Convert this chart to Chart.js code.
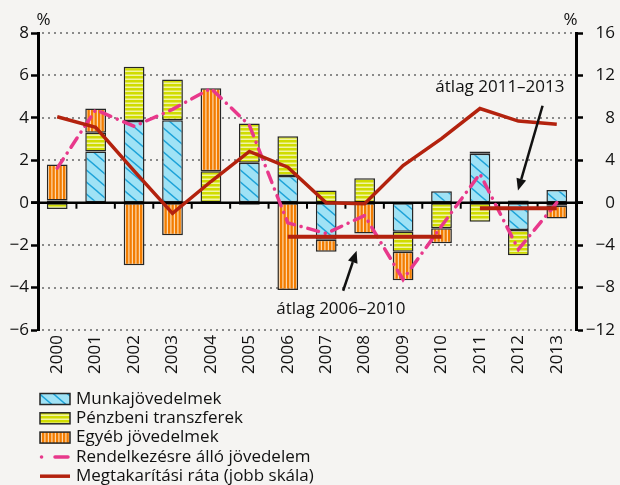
<!DOCTYPE html>
<html><head><meta charset="utf-8">
<script src="https://cdn.jsdelivr.net/npm/chart.js@4/dist/chart.umd.min.js"></script>
<style>html,body{margin:0;padding:0;background:#f5f4f2;}canvas{display:block}</style>
</head><body>
<canvas id="c" width="620" height="485" style="width:620px;height:485px"></canvas>
<script>
// ---- data ----
const years = ['2000','2001','2002','2003','2004','2005','2006','2007','2008','2009','2010','2011','2012','2013'];
const munkajovedelmek = [0.1, 2.42, 3.85, 3.89, 0, 1.88, 1.26, -1.74, 0, -1.37, 0.54, 2.31, -1.29, 0.6];
const penzbeniTranszferek = [-0.3, 0.88, 2.56, 1.92, 1.48, 1.85, 1.87, 0.57, 1.15, -0.94, -1.2, -0.9, -1.19, -0.14];
const egyebJovedelmek = [1.7, 1.14, -2.95, -1.53, 3.91, -0.1, -4.12, -0.57, -1.45, -1.34, -0.71, 0.1, 0.1, -0.6];
const rendelkezesreAllo = [1.63, 4.38, 3.6, 4.4, 5.39, 3.65, -0.95, -1.45, -0.6, -3.62, -1.1, 1.36, -2.2, 0.0];
const megtakaritasiRata = [8.1, 7.1, 3.0, -1.0, 2.0, 4.83, 3.35, 0.0, -0.1, 3.5, 6.04, 8.88, 7.7, 7.39];
const atlag2006_2010 = [null, null, null, null, null, null, -1.6, -1.6, -1.6, -1.6, -1.6, null, null, null];
const atlag2011_2013 = [null, null, null, null, null, null, null, null, null, null, null, -0.26, -0.26, -0.26];
const leftTicks = {min: -6, max: 8, step: 2};
const rightTicks = {min: -12, max: 16, step: 4};

const FONT = '"Open Sans", "DejaVu Sans", sans-serif';
Chart.defaults.font.family = FONT;
Chart.defaults.font.size = 17;
Chart.defaults.color = '#111';

function makePattern(kind){
  const c = document.createElement('canvas');
  const g = c.getContext('2d');
  if (kind === 'blue') {
    c.width = 14; c.height = 12;
    g.fillStyle = '#9fe2f5'; g.fillRect(0,0,14,12);
    g.strokeStyle = '#1ca2d8'; g.lineWidth = 1.4;
    for (let j = -1; j <= 1; j++) { g.beginPath(); g.moveTo(-14, -12 + 12*j); g.lineTo(28, 24 + 12*j); g.stroke(); }
  } else if (kind === 'yellow') {
    c.width = 4; c.height = 4;
    g.fillStyle = '#d0dc00'; g.fillRect(0,0,4,4);
    g.fillStyle = '#f1f4a4'; g.fillRect(0,2.5,4,1.5);
  } else {
    c.width = 7; c.height = 4;
    g.fillStyle = '#f27c00'; g.fillRect(0,0,7,4);
    g.fillStyle = '#fdd7aa'; g.fillRect(2.3,0,1.2,4); g.fillRect(5.8,0,1.2,4);
  }
  return document.getElementById('c').getContext('2d').createPattern(c, 'repeat');
}
const patBlue = makePattern('blue'), patYellow = makePattern('yellow'), patOrange = makePattern('orange');
const RED = '#b3220e', PINK = '#e8388b', EDGE = '#262626';

const fmt = v => v < 0 ? '\u2212' + Math.abs(v) : String(v);

function arrow(ctx, x1, y1, x2, y2){
  const ang = Math.atan2(y2 - y1, x2 - x1), L = 12, W = 5;
  const bx = x2 - L*Math.cos(ang), by = y2 - L*Math.sin(ang);
  ctx.beginPath(); ctx.moveTo(x1, y1); ctx.lineTo(bx, by); ctx.stroke();
  ctx.beginPath(); ctx.moveTo(x2, y2);
  ctx.lineTo(bx + W*Math.sin(ang), by - W*Math.cos(ang));
  ctx.lineTo(bx - W*Math.sin(ang), by + W*Math.cos(ang));
  ctx.closePath(); ctx.fill();
}

function drawGrid(chart){
  const {ctx, chartArea: a, scales: {y}} = chart;
  ctx.save(); ctx.fillStyle = '#8a8a8a';
  for (let v = leftTicks.min; v <= leftTicks.max; v += leftTicks.step) {
    if (v === 0) continue;
    const py = Math.round(y.getPixelForValue(v));
    for (let px = Math.round(a.left) + 4; px < a.right - 2; px += 6) ctx.fillRect(px, py - 1, 2, 2);
  }
  ctx.restore();
}

const overlay = {
  id: 'overlay',
  beforeDraw(chart){
    const ctx = chart.ctx; ctx.save(); ctx.fillStyle = '#f5f4f2'; ctx.fillRect(0,0,chart.width,chart.height); ctx.restore();
  },
  beforeDatasetsDraw(chart){
    drawGrid(chart);
  },
  beforeDatasetDraw(chart, args){
    if (args.index !== 3) return;
    const {ctx, chartArea: a, scales: {x, y}} = chart;
    const y0 = y.getPixelForValue(0);
    ctx.save(); ctx.strokeStyle = '#000'; ctx.lineWidth = 2.5;
    ctx.beginPath(); ctx.moveTo(a.left - 7, y0); ctx.lineTo(a.right + 7, y0); ctx.stroke();
    ctx.lineWidth = 2;
    for (let i = 1; i < years.length; i++) {
      const xb = (x.getPixelForValue(i-1) + x.getPixelForValue(i)) / 2;
      ctx.beginPath(); ctx.moveTo(xb, y0); ctx.lineTo(xb, y0 + 6); ctx.stroke();
    }
    ctx.restore();
  },
  afterDraw(chart){
    const {ctx, chartArea: a, scales: {x, y}} = chart;
    ctx.save();
    ctx.fillStyle = '#111'; ctx.font = '17px ' + FONT; ctx.textAlign = 'center'; ctx.textBaseline = 'middle';
    ctx.fillText('%', a.left + 5.5, a.top - 13);
    ctx.fillText('%', a.right - 5.5, a.top - 13);
    ctx.fillText('átlag 2011–2013', x.getPixelForValue(11.52), y.getPixelForValue(5.45));
    ctx.fillText('átlag 2006–2010', x.getPixelForValue(7.38), y.getPixelForValue(-5.0));
    ctx.strokeStyle = '#111'; ctx.fillStyle = '#111'; ctx.lineWidth = 2.5;
    arrow(ctx, x.getPixelForValue(12.63), y.getPixelForValue(4.57), x.getPixelForValue(11.99), y.getPixelForValue(0.57));
    arrow(ctx, x.getPixelForValue(7.44), y.getPixelForValue(-4.15), x.getPixelForValue(7.79), y.getPixelForValue(-2.26));
    const items = chart.data.datasets.filter(d => !d.hideInLegend);
    let ry = a.bottom + 69;
    ctx.font = '17px ' + FONT; ctx.textAlign = 'left'; ctx.textBaseline = 'middle';
    items.forEach(d => {
      if (d.type === 'bar') {
        ctx.fillStyle = d.backgroundColor; ctx.fillRect(40, ry - 5.5, 30, 11);
        ctx.strokeStyle = EDGE; ctx.lineWidth = 1.5; ctx.strokeRect(40, ry - 5.5, 30, 11);
      } else {
        ctx.strokeStyle = d.borderColor; ctx.lineWidth = d.borderWidth; ctx.lineCap = 'round';
        ctx.beginPath();
        if (d.borderDash) { ctx.moveTo(41.5, ry); ctx.lineTo(41.6, ry); ctx.moveTo(55, ry); ctx.lineTo(68, ry); ctx.stroke(); }
        else { ctx.lineCap = 'butt'; ctx.moveTo(40, ry); ctx.lineTo(70, ry); ctx.stroke(); }
      }
      ctx.fillStyle = '#111'; ctx.fillText(d.label, 76, ry);
      ry += 19.3;
    });
    ctx.restore();
  }
};

const barCommon = {type: 'bar', borderColor: EDGE, borderWidth: 1.5, borderSkipped: false, yAxisID: 'y', stack: 's', order: 5, barPercentage: 0.54, categoryPercentage: 1};

new Chart(document.getElementById('c'), {
  data: {
    labels: years,
    datasets: [
      Object.assign({label: 'Munkajövedelmek', data: munkajovedelmek, backgroundColor: patBlue}, barCommon),
      Object.assign({label: 'Pénzbeni transzferek', data: penzbeniTranszferek, backgroundColor: patYellow}, barCommon),
      Object.assign({label: 'Egyéb jövedelmek', data: egyebJovedelmek, backgroundColor: patOrange}, barCommon),
      {type: 'line', label: 'Rendelkezésre álló jövedelem', data: rendelkezesreAllo, borderColor: PINK, borderWidth: 3.5, borderDash: [11, 7, 0.1, 7], borderCapStyle: 'round', pointRadius: 0, tension: 0, fill: false, yAxisID: 'y', order: 2},
      {type: 'line', label: 'Megtakarítási ráta (jobb skála)', data: megtakaritasiRata, borderColor: RED, borderWidth: 3.5, pointRadius: 0, tension: 0, fill: false, yAxisID: 'y2', order: 1},
      {type: 'line', label: 'átlag 2006–2010', hideInLegend: true, data: atlag2006_2010, borderColor: RED, borderWidth: 4, pointRadius: 0, fill: false, spanGaps: false, yAxisID: 'y', order: 0},
      {type: 'line', label: 'átlag 2011–2013', hideInLegend: true, data: atlag2011_2013, borderColor: RED, borderWidth: 4, pointRadius: 0, fill: false, spanGaps: false, yAxisID: 'y', order: 0}
    ]
  },
  options: {
    responsive: false, animation: false,
    layout: {padding: {top: 33, left: 0, right: 5, bottom: 105}},
    plugins: {legend: {display: false}, tooltip: {enabled: false}},
    scales: {
      x: {
        type: 'category', offset: true,
        grid: {display: false, drawTicks: false}, border: {display: false},
        ticks: {minRotation: 90, maxRotation: 90, autoSkip: false, padding: 5, color: '#111'},
        afterFit(s){ s.height = 50; }
      },
      y: {
        position: 'left', min: leftTicks.min, max: leftTicks.max,
        ticks: {stepSize: leftTicks.step, padding: 2, color: '#111', callback: v => fmt(v)},
        grid: {drawOnChartArea: false, tickColor: '#000', tickLength: 7, tickWidth: 2.5},
        border: {display: true, color: '#000', width: 3},
        afterFit(s){ s.width = 38; }
      },
      y2: {
        position: 'right', min: rightTicks.min, max: rightTicks.max,
        ticks: {stepSize: rightTicks.step, padding: 2, crossAlign: 'far', color: '#111', callback: v => fmt(v)},
        grid: {drawOnChartArea: false, tickColor: '#000', tickLength: 7, tickWidth: 2.5},
        border: {display: true, color: '#000', width: 3},
        afterFit(s){ s.width = 39; }
      }
    }
  },
  plugins: [overlay]
});
</script>
</body></html>
